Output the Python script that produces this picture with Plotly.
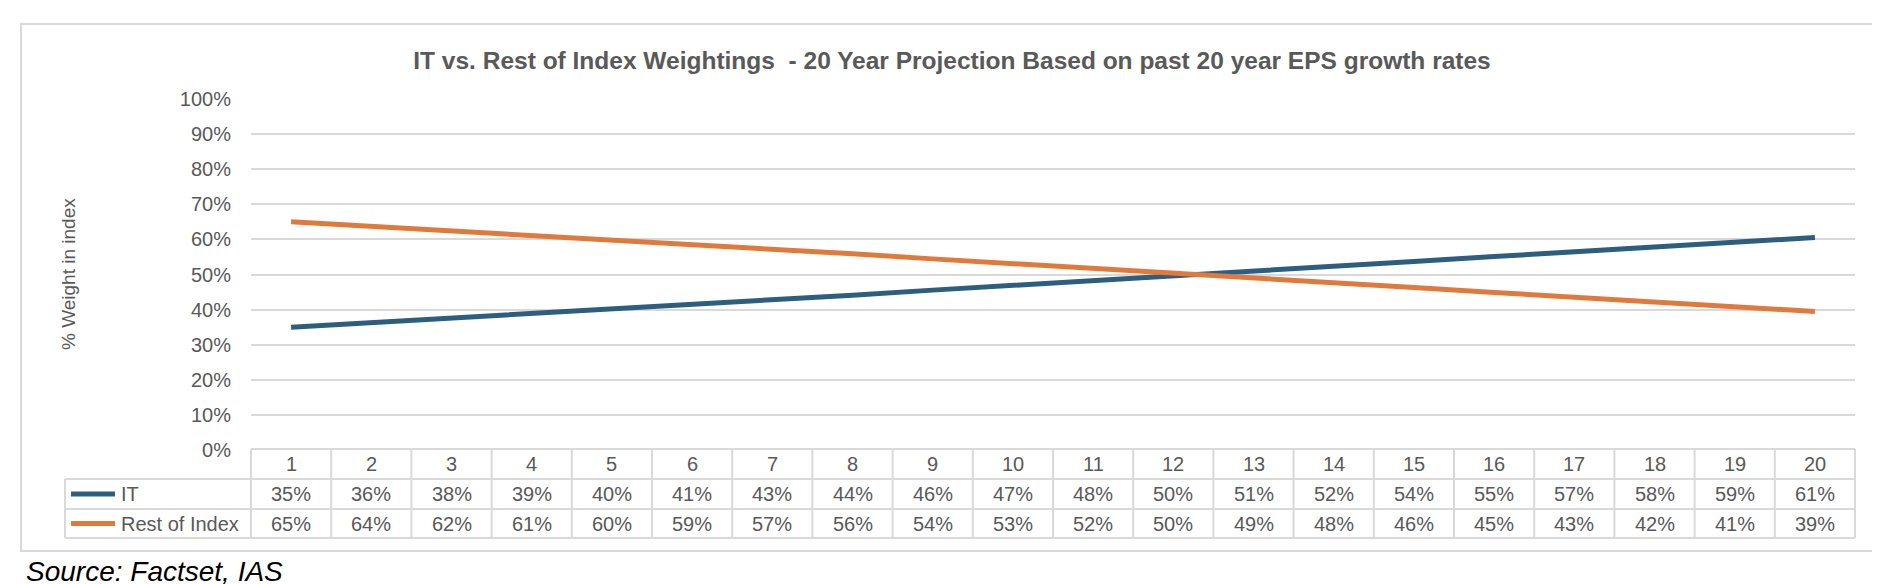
import plotly.graph_objects as go

# ---- data ----
years = list(range(1, 21))
it_weight = [0.3500, 0.3625, 0.3755, 0.3885, 0.4015, 0.4145, 0.4277, 0.4410, 0.4555, 0.4685,
             0.4820, 0.4955, 0.5090, 0.5230, 0.5370, 0.5510, 0.5655, 0.5780, 0.5920, 0.6055]
rest_weight = [0.6500, 0.6375, 0.6245, 0.6115, 0.5985, 0.5855, 0.5723, 0.5590, 0.5445, 0.5315,
               0.5180, 0.5045, 0.4910, 0.4770, 0.4630, 0.4490, 0.4345, 0.4220, 0.4080, 0.3945]
series_names = ["IT", "Rest of Index"]
title_text = "IT vs. Rest of Index Weightings &nbsp;- 20 Year Projection Based on past 20 year EPS growth rates"
y_title = "% Weight in index"
source_text = "Source: Factset, IAS"

# ---- style ----
W, H = 1880, 584
ML, MR, MT, MB = 243, 33, 91, 142
PW, PH = W - ML - MR, H - MT - MB
FONT = "Liberation Sans, Arial, sans-serif"
TXT = "#595959"
GRID = "#d9d9d9"
colors = ["#2E5E7F", "#E07A3C"]


def xp(px):
    return (px - ML) / PW


def yp(py):
    return (H - MB - py) / PH


fig = go.Figure()
for name, vals, col in zip(series_names, [it_weight, rest_weight], colors):
    fig.add_trace(go.Scatter(x=years, y=vals, mode="lines", name=name,
                             line=dict(color=col, width=5), showlegend=False))

shapes = []
annotations = []

# outer chart border
shapes.append(dict(type="rect", xref="paper", yref="paper",
                   x0=xp(13), x1=xp(1868), y0=yp(543), y1=yp(16),
                   line=dict(color=GRID, width=2), layer="below"))

# data table
n = len(years)
row_edges = [441, 471, 501, 530]
leg_left = 57
shapes.append(dict(type="line", xref="paper", yref="paper", x0=0, x1=1,
                   y0=yp(row_edges[0]), y1=yp(row_edges[0]), line=dict(color=GRID, width=2)))
for r in row_edges[1:]:
    shapes.append(dict(type="line", xref="paper", yref="paper", x0=xp(leg_left), x1=1,
                       y0=yp(r), y1=yp(r), line=dict(color=GRID, width=2)))
shapes.append(dict(type="line", xref="paper", yref="paper", x0=xp(leg_left), x1=xp(leg_left),
                   y0=yp(row_edges[1]), y1=yp(row_edges[3]), line=dict(color=GRID, width=2)))
for k in range(n + 1):
    shapes.append(dict(type="line", xref="paper", yref="paper", x0=k / n, x1=k / n,
                       y0=yp(row_edges[0]), y1=yp(row_edges[3]), line=dict(color=GRID, width=2)))

row_c = [(row_edges[i] + row_edges[i + 1]) / 2 for i in range(3)]
TF = dict(family=FONT, size=20, color=TXT)
for yr in years:
    annotations.append(dict(x=yr, xref="x", y=yp(row_c[0]), yref="paper", text=str(yr),
                            showarrow=False, font=TF, xanchor="center", yanchor="middle"))
for ri, (vals, name, col) in enumerate(zip([it_weight, rest_weight], series_names, colors)):
    yc = yp(row_c[ri + 1])
    for yr, v in zip(years, vals):
        annotations.append(dict(x=yr, xref="x", y=yc, yref="paper", text=f"{v:.0%}",
                                showarrow=False, font=TF, xanchor="center", yanchor="middle"))
    shapes.append(dict(type="line", xref="paper", yref="paper", x0=xp(63), x1=xp(107),
                       y0=yc, y1=yc, line=dict(color=col, width=5)))
    annotations.append(dict(x=xp(111), xref="paper", y=yc, yref="paper", text=name,
                            showarrow=False, font=TF, xanchor="left", yanchor="middle"))

# y axis title
annotations.append(dict(x=xp(60), xref="paper", y=yp(266), yref="paper", text=y_title,
                        textangle=-90, showarrow=False, font=dict(family=FONT, size=19, color=TXT),
                        xanchor="center", yanchor="middle"))
# source
annotations.append(dict(x=xp(16), xref="paper", y=yp(563), yref="paper", text=f"<i>{source_text}</i>",
                        showarrow=False, font=dict(family=FONT, size=28, color="#000000"),
                        xanchor="left", yanchor="middle"))

fig.update_layout(
    width=W, height=H,
    margin=dict(l=ML, r=MR, t=MT, b=MB, autoexpand=False),
    paper_bgcolor="white", plot_bgcolor="white",
    title=dict(text=f"<b>{title_text}</b>", xref="container", x=944 / W, xanchor="center",
               yref="container", y=1 - 52 / H, yanchor="middle",
               font=dict(family=FONT, size=24.5, color=TXT)),
    xaxis=dict(range=[0.5, n + 0.5], showticklabels=False, showgrid=False,
               zeroline=False, showline=False, ticks=""),
    yaxis=dict(range=[0, 1], dtick=0.1, tickformat=".0%", showgrid=True, gridcolor=GRID,
               gridwidth=2, zeroline=False, showline=False, ticks="", ticklabelstandoff=19,
               tickfont=dict(family=FONT, size=20, color=TXT)),
    shapes=shapes, annotations=annotations,
)

fig.write_html("out.html")
